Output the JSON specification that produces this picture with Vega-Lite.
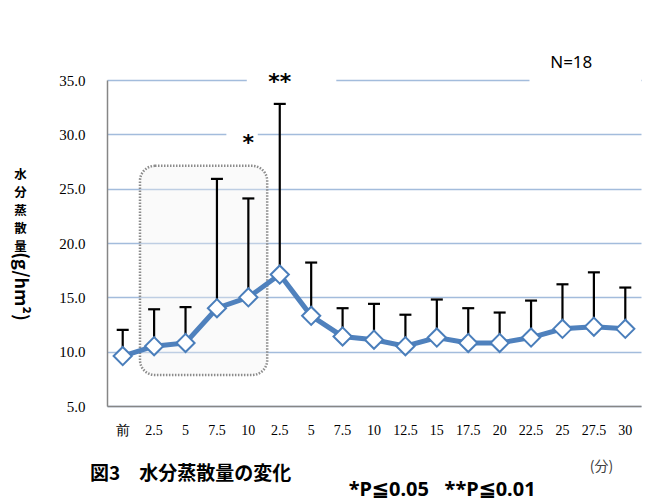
{
  "$schema": "https://vega.github.io/schema/vega-lite/v6.json",
  "width": 534,
  "height": 326,
  "autosize": {"type": "none"},
  "padding": {"left": 107, "top": 80, "right": 23, "bottom": 97},
  "background": "white",
  "title": {
    "text": "図3　水分蒸散量の変化",
    "orient": "bottom",
    "anchor": "start",
    "frame": "group",
    "dx": -17,
    "offset": -35,
    "font": "Noto Sans CJK JP",
    "fontSize": 19,
    "fontWeight": "bold",
    "color": "#000000"
  },
  "config": {
    "view": {"stroke": null},
    "axis": {
      "labelColor": "#000000",
      "titleColor": "#000000",
      "labelFont": "Liberation Serif",
      "labelFontSize": 15,
      "labelOverlap": false,
      "labelFlush": false,
      "ticks": false,
      "tickSize": 0,
      "domainColor": "#868686",
      "domainWidth": 1.5
    },
    "axisX": {"grid": false, "labels": false},
    "axisY": {"grid": true, "gridColor": "#a3bcdc", "gridWidth": 1.6, "labelPadding": 22}
  },
  "datasets": {
    "series": [
      {"idx": 0, "label": "前", "mean": 9.6, "upper": 12.0},
      {"idx": 1, "label": "2.5", "mean": 10.5, "upper": 13.9},
      {"idx": 2, "label": "5", "mean": 10.8, "upper": 14.1},
      {"idx": 3, "label": "7.5", "mean": 14.0, "upper": 25.9},
      {"idx": 4, "label": "10", "mean": 15.0, "upper": 24.1},
      {"idx": 5, "label": "2.5", "mean": 17.1, "upper": 32.8},
      {"idx": 6, "label": "5", "mean": 13.3, "upper": 18.2},
      {"idx": 7, "label": "7.5", "mean": 11.4, "upper": 14.0},
      {"idx": 8, "label": "10", "mean": 11.1, "upper": 14.4},
      {"idx": 9, "label": "12.5", "mean": 10.5, "upper": 13.4},
      {"idx": 10, "label": "15", "mean": 11.3, "upper": 14.8},
      {"idx": 11, "label": "17.5", "mean": 10.8, "upper": 14.0},
      {"idx": 12, "label": "20", "mean": 10.8, "upper": 13.6},
      {"idx": 13, "label": "22.5", "mean": 11.3, "upper": 14.7},
      {"idx": 14, "label": "25", "mean": 12.1, "upper": 16.2},
      {"idx": 15, "label": "27.5", "mean": 12.3, "upper": 17.3},
      {"idx": 16, "label": "30", "mean": 12.1, "upper": 15.9}
    ],
    "gaps": [
      {"x": 3.95, "x2": 6.8, "y": 34.3, "y2": 36.2},
      {"x": 3.3, "x2": 4.3, "y": 29.4, "y2": 30.6},
      {"x": 12.95, "x2": 16.5, "y": 34.3, "y2": 37.5}
    ],
    "box": [
      {"x": 0.55, "x2": 4.6, "y": 7.85, "y2": 27.1}
    ]
  },
  "layer": [
    {
      "data": {"name": "gaps"},
      "mark": {"type": "rect", "fill": "white", "stroke": null},
      "encoding": {
        "x": {
          "field": "x", "type": "quantitative",
          "scale": {"domain": [-0.5, 16.5], "nice": false, "zero": false},
          "axis": {
            "values": [0, 1, 2, 3, 4, 5, 6, 7, 8, 9, 10, 11, 12, 13, 14, 15, 16],
            "labels": false,
            "title": "(分)",
            "titleX": 494,
            "titleY": 60,
            "titleAlign": "center",
            "titleBaseline": "middle",
            "titleFont": "Noto Sans CJK JP",
            "titleFontSize": 14,
            "titleFontWeight": "normal",
            "titleColor": "#404040"
          }
        },
        "x2": {"field": "x2"},
        "y": {
          "field": "y", "type": "quantitative",
          "scale": {"domain": [5, 35], "nice": false, "zero": false},
          "axis": {
            "values": [5, 10, 15, 20, 25, 30, 35],
            "format": ".1f",
            "title": ["水", "分", "蒸", "散", "量"],
            "titleAngle": 0,
            "titleX": -87,
            "titleY": 88,
            "titleAlign": "center",
            "titleBaseline": "top",
            "titleFont": "Noto Sans CJK JP",
            "titleFontSize": 12.5,
            "titleFontWeight": "bold",
            "titleLineHeight": 18
          }
        },
        "y2": {"field": "y2"}
      }
    },
    {
      "data": {"name": "box"},
      "mark": {"type": "rect", "fill": "#f2f2f2", "fillOpacity": 0.35, "stroke": "#8c8c8c", "strokeWidth": 2.5, "strokeDash": [1.5, 1.5], "cornerRadius": 15},
      "encoding": {
        "x": {"field": "x", "type": "quantitative", "scale": {"domain": [-0.5, 16.5], "nice": false, "zero": false}},
        "x2": {"field": "x2"},
        "y": {"field": "y", "type": "quantitative", "scale": {"domain": [5, 35], "nice": false, "zero": false}},
        "y2": {"field": "y2"}
      }
    },
    {
      "data": {"name": "series"},
      "mark": {"type": "line", "stroke": "#4f81bd", "strokeWidth": 5},
      "encoding": {
        "x": {"field": "idx", "type": "quantitative", "scale": {"domain": [-0.5, 16.5], "nice": false, "zero": false}},
        "y": {"field": "mean", "type": "quantitative", "scale": {"domain": [5, 35], "nice": false, "zero": false}}
      }
    },
    {
      "data": {"name": "series"},
      "mark": {"type": "rule", "stroke": "#000000", "strokeWidth": 2.2},
      "encoding": {
        "x": {"field": "idx", "type": "quantitative", "scale": {"domain": [-0.5, 16.5], "nice": false, "zero": false}},
        "y": {"field": "mean", "type": "quantitative", "scale": {"domain": [5, 35], "nice": false, "zero": false}},
        "y2": {"field": "upper"}
      }
    },
    {
      "data": {"name": "series"},
      "mark": {"type": "tick", "orient": "horizontal", "color": "#000000", "size": 12, "thickness": 2.2, "opacity": 1},
      "encoding": {
        "x": {"field": "idx", "type": "quantitative", "scale": {"domain": [-0.5, 16.5], "nice": false, "zero": false}},
        "y": {"field": "upper", "type": "quantitative", "scale": {"domain": [5, 35], "nice": false, "zero": false}}
      }
    },
    {
      "data": {"name": "series"},
      "mark": {"type": "point", "shape": "diamond", "size": 330, "filled": true, "fill": "white", "stroke": "#4a7ebb", "strokeWidth": 2, "opacity": 1},
      "encoding": {
        "x": {"field": "idx", "type": "quantitative", "scale": {"domain": [-0.5, 16.5], "nice": false, "zero": false}},
        "y": {"field": "mean", "type": "quantitative", "scale": {"domain": [5, 35], "nice": false, "zero": false}}
      }
    },
    {
      "data": {"name": "series"},
      "mark": {"type": "text", "font": "Liberation Serif", "fontSize": 14, "color": "#000000", "align": "center", "baseline": "middle"},
      "encoding": {
        "x": {"field": "idx", "type": "quantitative", "scale": {"domain": [-0.5, 16.5], "nice": false, "zero": false}},
        "y": {"datum": 2.7, "type": "quantitative", "scale": {"domain": [5, 35], "nice": false, "zero": false}},
        "text": {"field": "label"}
      }
    },
    {
      "data": {"values": [{"label": "**", "x": 5, "y": 34.13}, {"label": "*", "x": 4, "y": 28.55}]},
      "mark": {"type": "text", "font": "DejaVu Sans", "fontSize": 22, "fontWeight": "bold", "color": "#000000", "align": "center", "baseline": "alphabetic"},
      "encoding": {
        "x": {"field": "x", "type": "quantitative", "scale": {"domain": [-0.5, 16.5], "nice": false, "zero": false}},
        "y": {"field": "y", "type": "quantitative", "scale": {"domain": [5, 35], "nice": false, "zero": false}},
        "text": {"field": "label"}
      }
    },
    {
      "data": {"values": [{"label": "N=18", "x": 14.28, "y": 36.55}]},
      "mark": {"type": "text", "font": "Noto Sans", "fontSize": 17, "color": "#000000", "align": "center", "baseline": "middle"},
      "encoding": {
        "x": {"field": "x", "type": "quantitative", "scale": {"domain": [-0.5, 16.5], "nice": false, "zero": false}},
        "y": {"field": "y", "type": "quantitative", "scale": {"domain": [5, 35], "nice": false, "zero": false}},
        "text": {"field": "label"}
      }
    },
    {
      "data": {"values": [{"label": "*P≦0.05\u00a0\u00a0\u00a0**P≦0.01", "x": 10.17, "y": -2.73}]},
      "mark": {"type": "text", "font": "Noto Sans", "fontSize": 20, "fontWeight": "bold", "color": "#000000", "align": "center", "baseline": "middle"},
      "encoding": {
        "x": {"field": "x", "type": "quantitative", "scale": {"domain": [-0.5, 16.5], "nice": false, "zero": false}},
        "y": {"field": "y", "type": "quantitative", "scale": {"domain": [5, 35], "nice": false, "zero": false}},
        "text": {"field": "label"}
      }
    },
    {
      "data": {"values": [{"label": "(g/hm²)", "x": -3.27, "y": 16.0}]},
      "mark": {"type": "text", "font": "Noto Sans CJK JP", "fontSize": 18, "fontWeight": "bold", "color": "#000000", "align": "center", "baseline": "middle", "angle": 90},
      "encoding": {
        "x": {"field": "x", "type": "quantitative", "scale": {"domain": [-0.5, 16.5], "nice": false, "zero": false}},
        "y": {"field": "y", "type": "quantitative", "scale": {"domain": [5, 35], "nice": false, "zero": false}},
        "text": {"field": "label"}
      }
    }
  ]
}
